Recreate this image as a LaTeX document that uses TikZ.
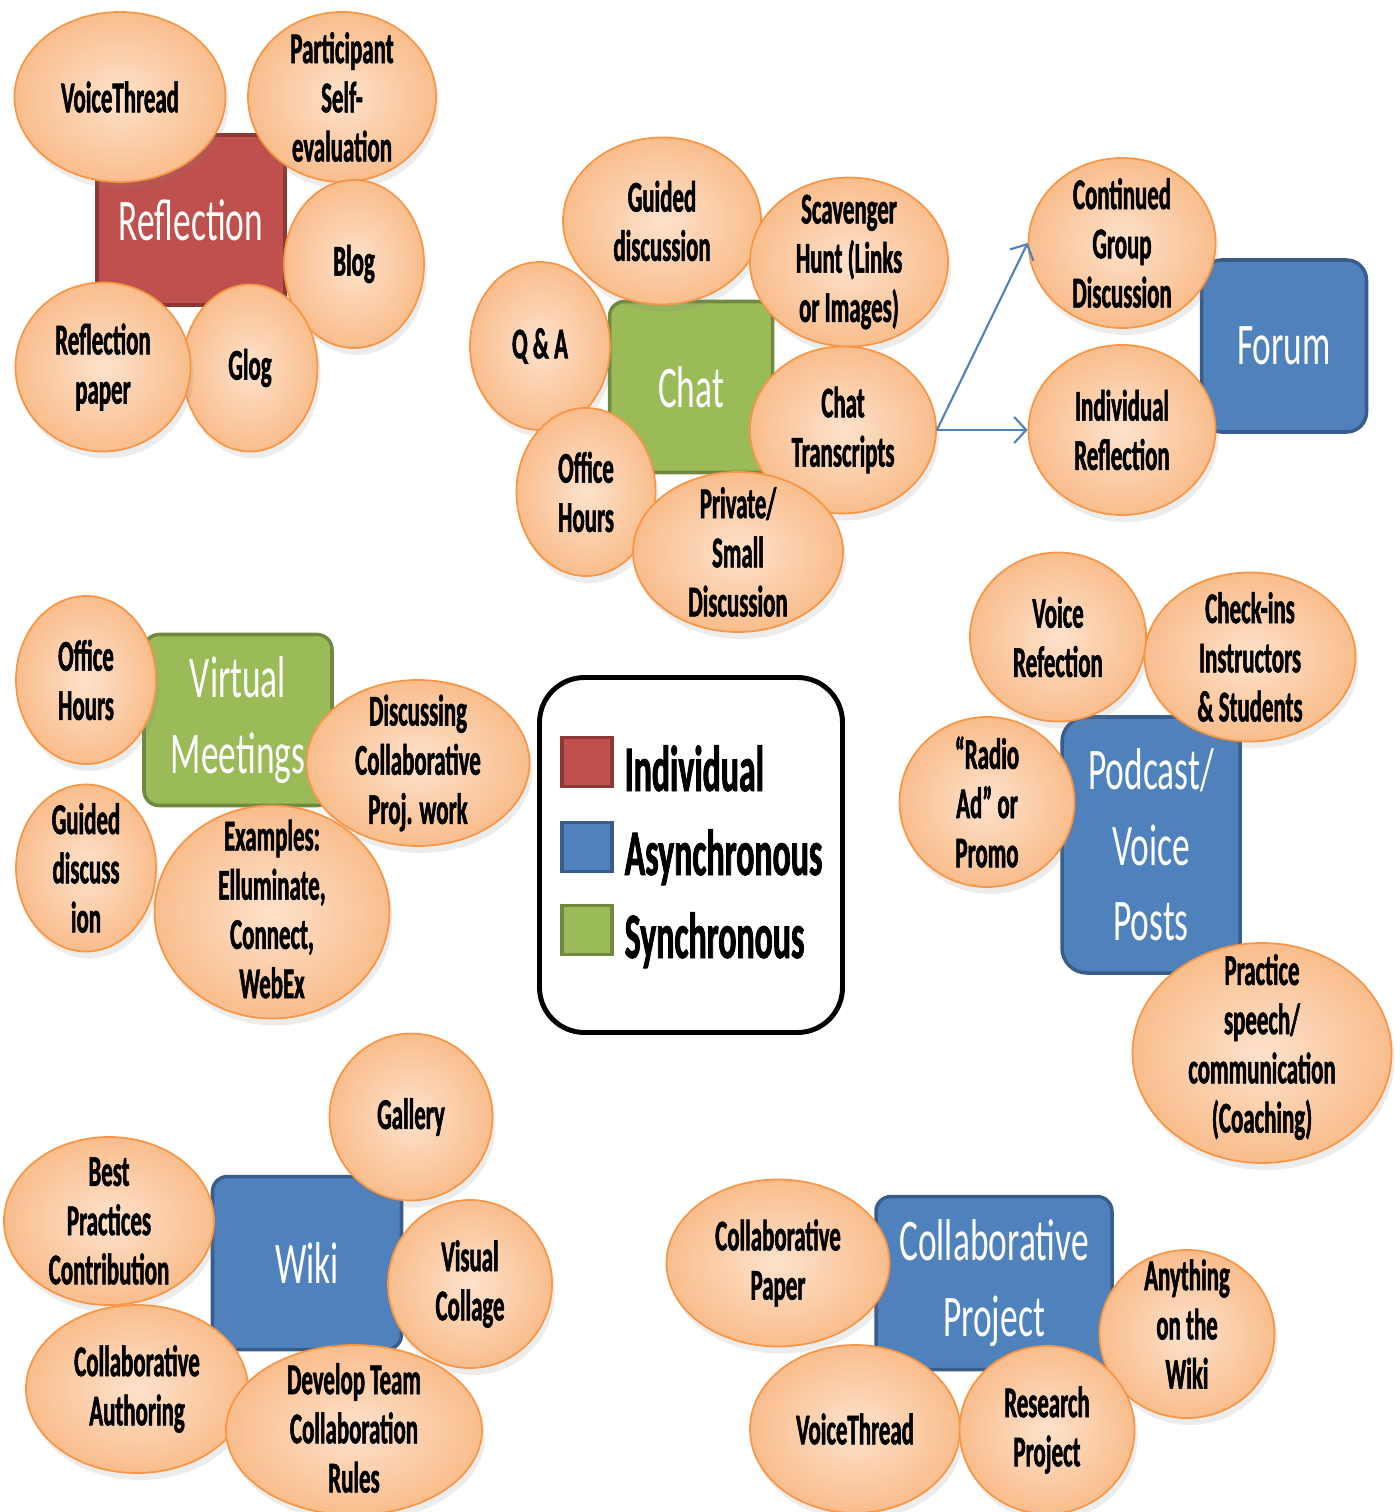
\documentclass[tikz,border=0pt]{standalone}
\usepackage{fontspec}
\newfontfamily\bubfont[FakeStretch=0.52, BoldFeatures={FakeBold=1.2}]{Carlito}
\newfontfamily\boxfont[FakeStretch=0.6]{Carlito}
\usepackage{tikz}
\usetikzlibrary{shapes.geometric,arrows.meta,shadows}

\definecolor{indred}{HTML}{C0504D}
\definecolor{indredline}{HTML}{8C3836}
\definecolor{syngreen}{HTML}{9BBB59}
\definecolor{syngreenline}{HTML}{71893F}
\definecolor{asyblue}{HTML}{4F81BD}
\definecolor{asyblueline}{HTML}{385D8A}
\definecolor{peachin}{HTML}{FDE2CC}
\definecolor{peachout}{HTML}{F9BD8C}
\definecolor{peachline}{HTML}{F79646}

\begin{document}
\begin{tikzpicture}[x=0.1mm, y=-0.1mm]
  \useasboundingbox (0,0) rectangle (1400,1512);

  % ---- Styles -------------------------------------------------
  \tikzstyle{bub}=[ellipse, draw=peachline, line width=0.5pt, inner sep=0pt,
                   shade, inner color=peachin, outer color=peachout,
                   drop shadow={opacity=0.15, shadow xshift=0.3mm, shadow yshift=-0.7mm}]
  \tikzstyle{btxt}=[align=center, text=black,
                    font=\bubfont\bfseries\fontsize{12.5}{14}\selectfont]
  \tikzstyle{topic}=[rectangle, rounded corners=1.5mm, line width=1pt,
                     text=white, align=center,
                     font=\boxfont\fontsize{16.8}{21.5}\selectfont]
  \tikzstyle{indiv}=[topic, fill=indred, draw=indredline]
  \tikzstyle{async}=[topic, fill=asyblue, draw=asyblueline]
  \tikzstyle{sync}=[topic, fill=syngreen, draw=syngreenline]
  \tikzstyle{lead}=[asyblue, line width=0.6pt,
                    -{Straight Barb[length=1.2mm, width=2.6mm]}]

  % ---- Topic boxes --------------------------------------------
  \node[indiv, rounded corners=0.5mm, minimum width=1.88cm, minimum height=1.70cm]
    (reflection) at (191,220) {Reflection};
  \node[sync, minimum width=1.63cm, minimum height=1.71cm]
    (chat) at (691,387) {Chat};
  \node[async, rounded corners=2mm, minimum width=1.65cm, minimum height=1.72cm]
    (forum) at (1284,346) {Forum};
  \node[sync, minimum width=1.88cm, minimum height=1.71cm]
    (virtual) at (238,720) {Virtual\\Meetings};
  \node[async, rounded corners=2.5mm, minimum width=1.78cm, minimum height=2.56cm]
    (podcast) at (1151,845) {Podcast/\\Voice\\Posts};
  \node[async, minimum width=1.89cm, minimum height=1.73cm]
    (wiki) at (307,1263) {Wiki};
  \node[async, minimum width=2.36cm, minimum height=1.73cm]
    (collab) at (994,1283) {Collaborative\\Project};

  % ---- Reflection bubbles -------------------------------------
  \node[bub, minimum width=2.11cm, minimum height=1.70cm,
        label={[btxt]center:{VoiceThread}}] (rvoice) at (120,97) {};
  \node[bub, minimum width=1.88cm, minimum height=1.70cm,
        label={[btxt]center:{Participant\\Self-\\evaluation}}] (rself) at (342,97) {};
  \node[bub, minimum width=1.40cm, minimum height=1.68cm,
        label={[btxt]center:{Blog}}] (rblog) at (354,264) {};
  \node[bub, minimum width=1.35cm, minimum height=1.67cm,
        label={[btxt]center:{Glog}}] (rglog) at (250,368) {};
  \node[bub, minimum width=1.75cm, minimum height=1.69cm,
        label={[btxt]center:{Reflection\\paper}}] (rpaper) at (103,367) {};

  % ---- Chat bubbles -------------------------------------------
  \node[bub, minimum width=1.98cm, minimum height=1.67cm,
        label={[btxt]center:{Guided\\discussion}}] (cguided) at (662,221) {};
  \node[bub, minimum width=1.98cm, minimum height=1.69cm,
        label={[btxt]center:{Scavenger\\Hunt (Links\\or Images)}}] (chunt) at (849,262) {};
  \node[bub, minimum width=1.40cm, minimum height=1.68cm,
        label={[btxt]center:{Q \& A}}] (cqa) at (540,346) {};
  \node[bub, minimum width=1.86cm, minimum height=1.67cm,
        label={[btxt]center:{Chat\\Transcripts}}] (ctrans) at (843,430) {};
  \node[bub, minimum width=1.39cm, minimum height=1.68cm,
        label={[btxt]center:{Office\\Hours}}] (coffice) at (586,492) {};
  \node[bub, minimum width=2.10cm, minimum height=1.60cm,
        label={[btxt]center:{Private/\\Small\\Discussion}}] (cprivate) at (738,552) {};

  % ---- Forum bubbles and leads --------------------------------
  \node[bub, minimum width=1.87cm, minimum height=1.70cm,
        label={[btxt]center:{Continued\\Group\\Discussion}}] (fgroup) at (1122,243) {};
  \node[bub, minimum width=1.87cm, minimum height=1.70cm,
        label={[btxt]center:{Individual\\Reflection}}] (findiv) at (1122,430) {};

  \draw[lead] (ctrans.east) -- (fgroup.west);
  \draw[lead] (ctrans.east) -- (findiv.west);

  % ---- Virtual meeting bubbles --------------------------------
  \node[bub, minimum width=1.40cm, minimum height=1.68cm,
        label={[btxt]center:{Office\\Hours}}] (voffice) at (86,680) {};
  \node[bub, minimum width=1.40cm, minimum height=1.67cm,
        label={[btxt]center:{Guided\\discuss\\ion}}] (vguided) at (86,868) {};
  \node[bub, minimum width=2.23cm, minimum height=1.66cm,
        label={[btxt]center:{Discussing\\Collaborative\\Proj. work}}] (vproj) at (418,763) {};
  \node[bub, minimum width=2.35cm, minimum height=2.13cm,
        label={[btxt, yshift=0.3mm]center:{Examples:\\Elluminate,\\Connect,\\WebEx}}] (vexamples) at (272,912) {};

  % ---- Podcast bubbles ----------------------------------------
  \node[bub, minimum width=1.76cm, minimum height=1.69cm,
        label={[btxt]center:{Voice\\Refection}}] (pvoice) at (1058,637) {};
  \node[bub, minimum width=2.11cm, minimum height=1.69cm,
        label={[btxt]center:{Check-ins\\Instructors\\\& Students}}] (pcheck) at (1250,657) {};
  \node[bub, minimum width=1.75cm, minimum height=1.70cm,
        label={[btxt]center:{“Radio\\Ad” or\\Promo}}] (pradio) at (987,802) {};
  \node[bub, minimum width=2.59cm, minimum height=2.20cm,
        label={[btxt, yshift=0.6mm]center:{Practice\\speech/\\communication\\(Coaching)}}] (pspeech) at (1262,1053) {};

  % ---- Wiki bubbles -------------------------------------------
  \node[bub, minimum width=1.63cm, minimum height=1.67cm,
        label={[btxt]center:{Gallery}}] (wgallery) at (411,1117) {};
  \node[bub, minimum width=2.10cm, minimum height=1.68cm,
        label={[btxt]center:{Best\\Practices\\Contribution}}] (wbest) at (109,1221) {};
  \node[bub, minimum width=1.64cm, minimum height=1.68cm,
        label={[btxt]center:{Visual\\Collage}}] (wcollage) at (470,1284) {};
  \node[bub, minimum width=2.22cm, minimum height=1.68cm,
        label={[btxt]center:{Collaborative\\Authoring}}] (wauthor) at (137,1389) {};
  \node[bub, minimum width=2.56cm, minimum height=1.70cm,
        label={[btxt, yshift=0.2mm]center:{Develop Team\\Collaboration\\Rules}}] (wrules) at (354,1430) {};

  % ---- Collaborative project bubbles --------------------------
  \node[bub, minimum width=2.23cm, minimum height=1.67cm,
        label={[btxt]center:{Collaborative\\Paper}}] (kpaper) at (778,1263) {};
  \node[bub, minimum width=1.75cm, minimum height=1.68cm,
        label={[btxt, yshift=1mm]center:{Anything\\on the\\Wiki}}] (kwiki) at (1187,1334) {};
  \node[bub, minimum width=2.10cm, minimum height=1.68cm,
        label={[btxt]center:{VoiceThread}}] (kvoice) at (855,1429) {};
  \node[bub, minimum width=1.75cm, minimum height=1.68cm,
        label={[btxt]center:{Research\\Project}}] (kresearch) at (1047,1430) {};

  % ---- Legend -------------------------------------------------
  \tikzstyle{swatch}=[rectangle, line width=1pt, minimum width=0.50cm, minimum height=0.49cm]
  \tikzstyle{keytext}=[anchor=base west, inner sep=0pt,
                       font=\bubfont\bfseries\fontsize{18.5}{20}\selectfont]

  \node[draw=black, fill=white, line width=1.4pt, rounded corners=4.5mm,
        minimum width=3.03cm, minimum height=3.55cm] (legend) at (691,855) {};
  \node[swatch, fill=indred, draw=indredline]   (keyind)  at (587,762) {};
  \node[swatch, fill=asyblue, draw=asyblueline] (keyasy)  at (587,847) {};
  \node[swatch, fill=syngreen, draw=syngreenline] (keysyn) at (587,930) {};
  \node[keytext] (txtind) at (624,791) {Individual};
  \node[keytext] (txtasy) at (624,875) {Asynchronous};
  \node[keytext] (txtsyn) at (624,958) {Synchronous};

\end{tikzpicture}
\end{document}
